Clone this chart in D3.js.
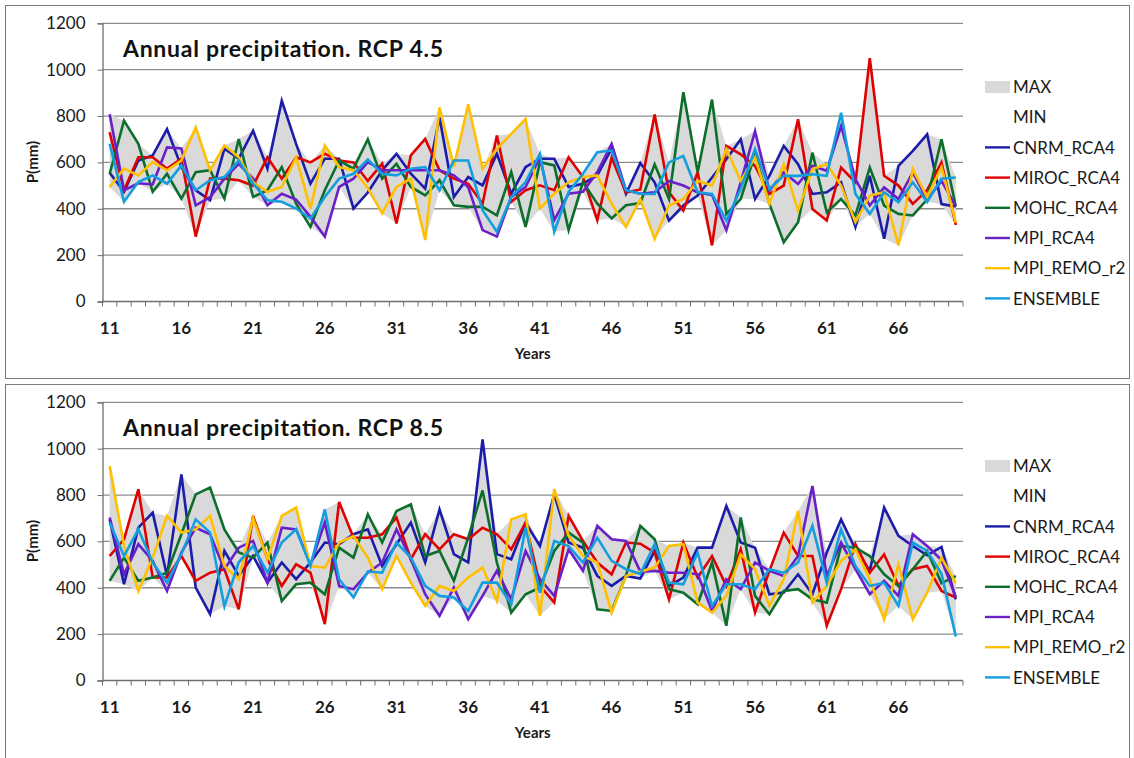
<!DOCTYPE html>
<html>
<head>
<meta charset="utf-8">
<script src="https://cdnjs.cloudflare.com/ajax/libs/d3/7.8.5/d3.min.js"></script>
<style>
body{margin:0;background:#fff;}
svg{display:block;font-family:Lato,"Open Sans",sans-serif;}
</style>
</head>
<body>
<svg id="chart" width="1134" height="758"></svg>
<script>
// categories
var years = d3.range(11, 71);
var tickYears = [11, 16, 21, 26, 31, 36, 41, 46, 51, 56, 61, 66];
var yTicks = [0, 200, 400, 600, 800, 1000, 1200];

var seriesNames = ["CNRM_RCA4", "MIROC_RCA4", "MOHC_RCA4", "MPI_RCA4", "MPI_REMO_r2", "ENSEMBLE"];
var seriesColors = ["#1c1caa", "#e00000", "#0b6e2a", "#6a1fc8", "#ffc000", "#139fdf"];

// RCP 4.5 (years 11..70)
var cnrm45  = [555,473,608,630,744,580,480,437,659,616,737,573,866,680,508,616,616,401,470,566,637,551,487,794,451,537,501,637,465,580,616,616,494,508,544,659,465,597,514,349,414,457,535,614,700,442,542,671,592,464,471,514,321,542,271,585,650,721,420,410];
var miroc45 = [730,480,622,622,573,616,280,530,530,523,500,622,530,622,600,637,608,600,520,594,337,630,701,566,530,508,422,716,430,480,501,480,622,537,351,620,470,483,807,471,392,557,242,671,635,585,464,500,786,399,349,578,514,1050,542,500,421,480,600,330];
var mohc45  = [551,780,680,473,551,444,558,566,444,701,451,480,580,422,322,480,608,573,700,530,594,494,458,523,415,408,408,372,558,322,601,587,308,515,422,358,415,425,592,442,903,557,871,378,442,635,421,256,342,642,385,442,371,578,414,378,371,440,700,410];
var mpi45   = [808,480,510,505,665,660,415,450,530,594,530,415,465,440,365,280,494,530,601,566,566,566,566,566,544,494,308,280,451,494,622,351,465,473,558,680,480,465,471,520,500,470,460,307,514,735,478,557,507,585,564,757,528,414,492,442,557,440,520,410];
var remo45  = [494,573,544,601,566,608,751,566,673,622,515,473,494,622,401,673,580,566,490,380,494,530,265,837,580,851,573,659,723,787,401,465,515,537,544,422,322,440,271,414,442,521,500,657,521,621,421,592,392,571,592,500,342,457,471,242,571,450,580,340];
var ens45   = [680,430,515,544,508,587,480,523,537,608,508,437,430,401,358,451,530,551,612,551,544,573,580,480,608,608,394,301,451,515,637,301,473,551,644,651,480,465,464,600,628,471,464,349,485,657,485,542,542,549,542,814,464,378,471,428,514,430,530,535];

// RCP 8.5 (years 11..70)
var cnrm85  = [695,415,659,724,451,889,401,286,559,451,537,422,509,437,509,595,588,631,652,494,588,681,509,738,545,509,1040,545,523,681,580,803,595,573,451,408,451,440,559,408,444,573,573,753,595,573,372,379,458,372,552,695,566,473,746,624,580,540,576,350];
var miroc85 = [537,609,825,444,444,537,430,465,480,307,710,523,408,501,465,243,770,616,616,631,703,523,631,566,631,609,659,631,566,681,408,336,710,602,509,458,595,590,552,350,595,444,537,408,566,293,473,638,537,537,236,394,588,465,544,408,480,494,386,358];
var mohc85  = [430,530,430,444,465,631,803,832,652,552,530,595,343,415,422,372,573,530,717,595,731,760,537,559,430,616,820,509,293,372,401,559,638,595,307,300,451,667,609,394,379,329,509,236,703,365,286,386,394,350,336,580,573,537,458,408,480,559,420,450];
var mpi85   = [703,458,588,516,386,552,659,631,480,573,602,422,659,652,501,681,408,394,465,509,652,523,372,279,401,264,365,473,350,559,437,365,566,473,667,609,602,470,473,465,465,458,300,437,394,509,473,451,537,839,451,595,480,372,430,365,631,580,520,360];
var remo85  = [925,580,386,530,710,638,652,710,494,437,700,523,710,746,494,487,595,623,530,394,537,422,322,408,386,444,487,343,695,717,279,825,624,537,509,293,451,470,487,580,588,336,293,365,544,480,322,437,731,336,408,516,566,437,264,501,264,379,530,420];
var ens85   = [681,537,652,509,422,545,695,638,320,510,580,465,595,652,494,738,437,358,470,465,595,530,408,365,358,300,422,422,329,659,379,602,580,509,616,516,480,460,588,422,415,552,322,415,415,394,480,465,509,667,422,652,494,408,422,322,595,559,460,190];

var panels = [
  {title: "Annual precipitation. RCP 4.5", top: 5,   series: [cnrm45, miroc45, mohc45, mpi45, remo45, ens45]},
  {title: "Annual precipitation. RCP 8.5", top: 384, series: [cnrm85, miroc85, mohc85, mpi85, remo85, ens85]}
];

var svg = d3.select("#chart");
var plotLeft = 102.5, plotRight = 963;

var x = d3.scaleBand().domain(years).range([plotLeft, plotRight]);
var cx = function(d){ return x(d) + x.bandwidth()/2; };

panels.forEach(function(p){
  var g = svg.append("g").attr("transform", "translate(0," + p.top + ")");

  // frame
  g.append("rect")
    .attr("x", 5.5).attr("y", 0.5)
    .attr("width", 1124).attr("height", p.top > 100 ? 390 : 373)
    .attr("fill", "none").attr("stroke", "#7a7a7a");

  var y = d3.scaleLinear().domain([0, 1200]).range([296.5, 18.3]);

  // gridlines
  g.selectAll("line.grid")
    .data(yTicks.filter(function(v){ return v > 0; }))
    .enter().append("line")
    .attr("class", "grid")
    .attr("x1", plotLeft).attr("x2", plotRight)
    .attr("y1", function(v){ return y(v); }).attr("y2", function(v){ return y(v); })
    .attr("stroke", "#8c8c8c").attr("stroke-width", 1.3);

  // band between the highest and lowest model each year
  var band = years.map(function(yr, i){
    var vals = p.series.map(function(s){ return s[i]; });
    return {yr: yr, max: d3.max(vals), min: d3.min(vals)};
  });
  g.append("path")
    .datum(band)
    .attr("fill", "#d9d9d9")
    .attr("d", d3.area()
      .x(function(d){ return cx(d.yr); })
      .y0(function(d){ return y(d.min); })
      .y1(function(d){ return y(d.max); }));

  // y axis
  var yAxis = g.append("g")
    .attr("transform", "translate(" + plotLeft + ",0)")
    .call(d3.axisLeft(y).tickValues(yTicks).tickFormat(d3.format("d")).tickSize(5).tickPadding(12));
  yAxis.select(".domain").attr("stroke", "#6e6e6e").attr("stroke-width", 1.3);
  yAxis.selectAll(".tick line").attr("stroke", "#6e6e6e");
  yAxis.selectAll("text").attr("font-size", 17).attr("fill", "#1a1a1a")
    .style("font-family", "Lato, 'Open Sans', sans-serif");

  // x axis line and ticks at category edges
  g.append("line")
    .attr("x1", plotLeft).attr("x2", plotRight)
    .attr("y1", y(0)).attr("y2", y(0))
    .attr("stroke", "#6e6e6e").attr("stroke-width", 1.3);
  g.selectAll("line.xt")
    .data(years.concat(["end"]))
    .enter().append("line")
    .attr("class", "xt")
    .attr("x1", function(d){ return d === "end" ? plotRight : x(d); })
    .attr("x2", function(d){ return d === "end" ? plotRight : x(d); })
    .attr("y1", y(0)).attr("y2", y(0) + 5)
    .attr("stroke", "#6e6e6e");

  g.selectAll("text.xl")
    .data(tickYears)
    .enter().append("text")
    .attr("class", "xl")
    .attr("x", function(d){ return cx(d); })
    .attr("y", 329)
    .attr("text-anchor", "middle")
    .attr("font-size", 17).attr("font-weight", "bold").attr("fill", "#1a1a1a")
    .text(function(d){ return d; });

  g.append("text")
    .attr("x", (plotLeft + plotRight)/2).attr("y", 354)
    .attr("text-anchor", "middle")
    .attr("font-size", 15).attr("font-weight", "bold").attr("fill", "#1a1a1a")
    .text("Years");

  g.append("text")
    .attr("transform", "translate(38,157) rotate(-90)")
    .attr("text-anchor", "middle")
    .attr("font-size", 15).attr("font-weight", "bold").attr("fill", "#1a1a1a")
    .text("P(mm)");

  // series lines
  var line = d3.line()
    .x(function(d, i){ return cx(years[i]); })
    .y(function(d){ return y(d); });
  p.series.forEach(function(s, k){
    g.append("path")
      .datum(s)
      .attr("fill", "none")
      .attr("stroke", seriesColors[k])
      .attr("stroke-width", 2.6)
      .attr("stroke-linejoin", "miter")
      .attr("d", line);
  });

  // title
  g.append("text")
    .attr("x", 123).attr("y", 52)
    .attr("font-size", 23).attr("font-weight", "bold").attr("fill", "#111")
    .attr("textLength", 320).attr("lengthAdjust", "spacing")
    .text(p.title);

  // legend
  var legendItems = ["MAX", "MIN"].concat(seriesNames);
  var lg = g.append("g").attr("transform", "translate(985,82)");
  legendItems.forEach(function(name, i){
    var row = lg.append("g").attr("transform", "translate(0," + (i * 30.2) + ")");
    if (name === "MAX") {
      row.append("rect").attr("x", 0).attr("y", -6).attr("width", 25).attr("height", 12).attr("fill", "#d9d9d9");
    } else if (name !== "MIN") {
      row.append("line").attr("x1", 0).attr("x2", 25).attr("y1", 0).attr("y2", 0)
        .attr("stroke", seriesColors[i - 2]).attr("stroke-width", 2.4);
    }
    row.append("text")
      .attr("x", 28).attr("y", 0).attr("dy", "0.36em")
      .attr("font-size", 17).attr("fill", "#1a1a1a")
      .text(name);
  });
});
</script>
</body>
</html>
